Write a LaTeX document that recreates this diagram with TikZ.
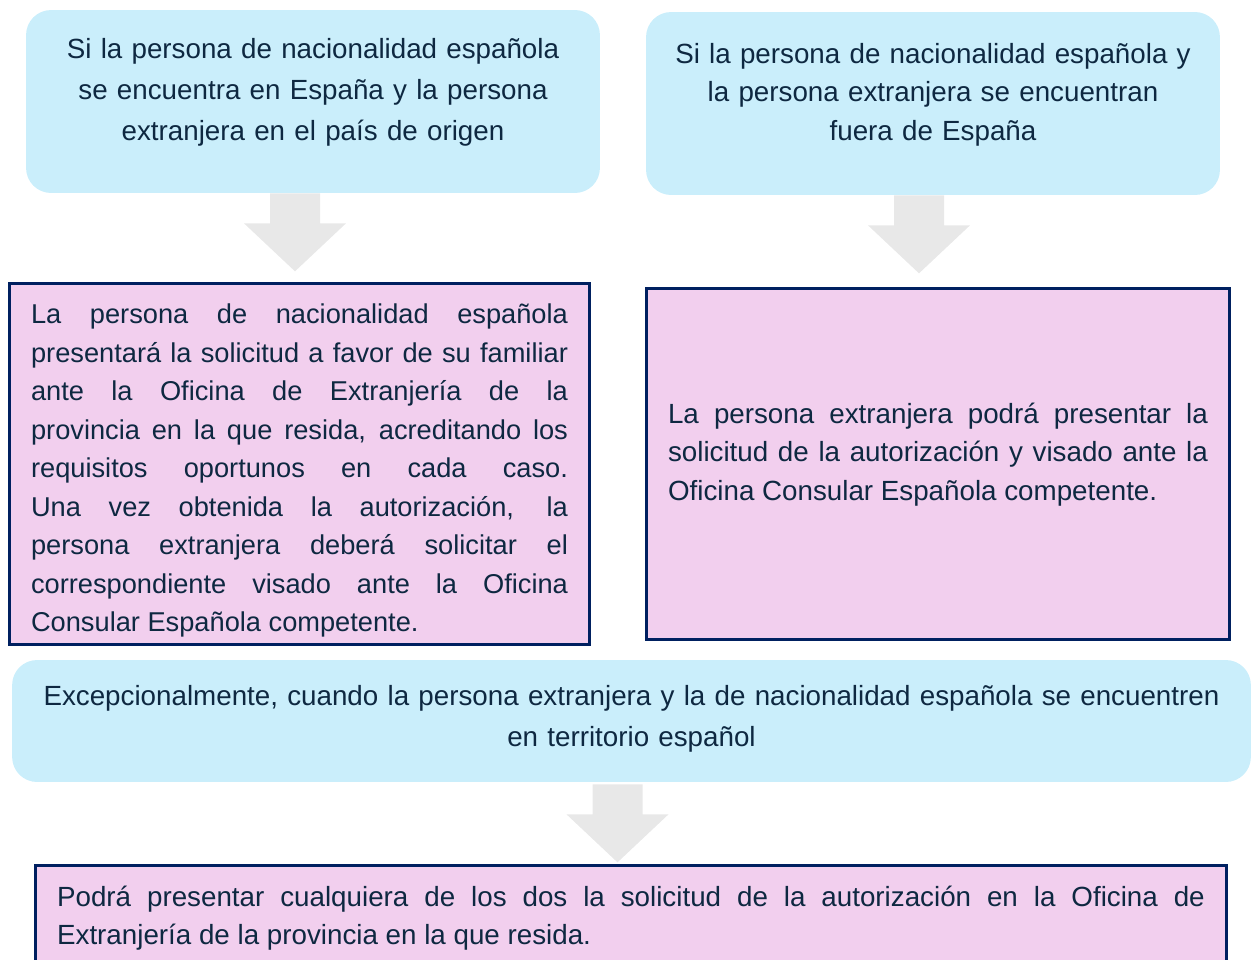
\documentclass[tikz,border=0pt]{standalone}
\usepackage{fontspec}
\setmainfont{Liberation Sans}
\usepackage{xcolor}
\usepackage{tikz}
\usetikzlibrary{calc}
\definecolor{boxblue}{HTML}{CAEEFB}
\definecolor{boxpink}{HTML}{F2CFEE}
\definecolor{navyline}{HTML}{002060}
\definecolor{textnavy}{HTML}{0E2841}
\definecolor{arrowgray}{HTML}{E8E8E8}

\begin{document}
\begin{tikzpicture}[x=0.02cm,y=-0.02cm,
    txt/.style={text=textnavy,font=\fontsize{15.8}{21.9}\selectfont,inner sep=0pt},
    casebox/.style={txt,fill=boxblue,rounded corners=0.5cm,align=center},
    stepbox/.style={txt,fill=boxpink,draw=navyline,line width=1.7pt,align=justify},
    pics/downarrow/.style={code={
      \fill[arrowgray] (-25,0) -- (25,0) -- (25,30) -- (51,30) -- (0,78)
        -- (-51,30) -- (-25,30) -- cycle;}}]
  \clip (0,0) rectangle (1252,960);
  \useasboundingbox (0,0) rectangle (1252,960);
  % first case
  \node[casebox,minimum width=11.48cm,minimum height=3.66cm,text width=10.4cm,
        font=\fontsize{15.8}{23.2}\selectfont] (spain) at (313,101.5)
       {Si la persona de nacionalidad española\\
        se encuentra en España y la persona\\
        extranjera en el país de origen\par\vspace{0.36cm}};
  \node[stepbox,minimum width=11.6cm,minimum height=7.22cm,text width=10.74cm,
        font=\fontsize{15.5}{21.9}\selectfont] (office) at (299.5,464)
       {\rule{0pt}{19pt}La persona de nacionalidad española\linebreak
        presentará la solicitud a favor de su familiar\linebreak
        ante la Oficina de Extranjería de la\linebreak
        provincia en la que resida, acreditando los\linebreak
        requisitos oportunos en cada caso.\linebreak
        Una vez obtenida la autorización, la\linebreak
        persona extranjera deberá solicitar el\linebreak
        correspondiente visado ante la Oficina\linebreak
        Consular Española competente.};
  \pic at ($(spain.south)+(-18,0)$) {downarrow};
  % second case
  \node[casebox,minimum width=11.48cm,minimum height=3.66cm,text width=10.4cm]
       (abroad) at (933,103.5)
       {Si la persona de nacionalidad española y\\
        la persona extranjera se encuentran\\
        fuera de España\par\vspace{0.36cm}};
  \node[stepbox,minimum width=11.66cm,minimum height=7.02cm,text width=10.8cm]
       (consul) at (938,464)
       {La persona extranjera podrá presentar la\linebreak
        solicitud de la autorización y visado ante la\linebreak
        Oficina Consular Española competente.\par\vspace{0.38cm}};
  \pic at ($(abroad.south)+(-14,0)$) {downarrow};
  % exception
  \node[casebox,minimum width=24.78cm,minimum height=2.44cm,text width=24cm,
        font=\fontsize{15.8}{23.2}\selectfont] (except) at (631.5,721)
       {Excepcionalmente, cuando la persona extranjera y la de nacionalidad española se encuentren\\
        en territorio español\par\vspace{0.08cm}};
  \node[stepbox,minimum width=23.82cm,minimum height=2cm,text width=22.96cm]
       (either) at (631,915.5)
       {\rule{0pt}{14.5pt}Podrá presentar cualquiera de los dos la solicitud de la autorización en la Oficina de\linebreak
        Extranjería de la provincia en la que resida.};
  \pic at ($(except.south)+(-14,2)$) {downarrow};
\end{tikzpicture}
\end{document}
